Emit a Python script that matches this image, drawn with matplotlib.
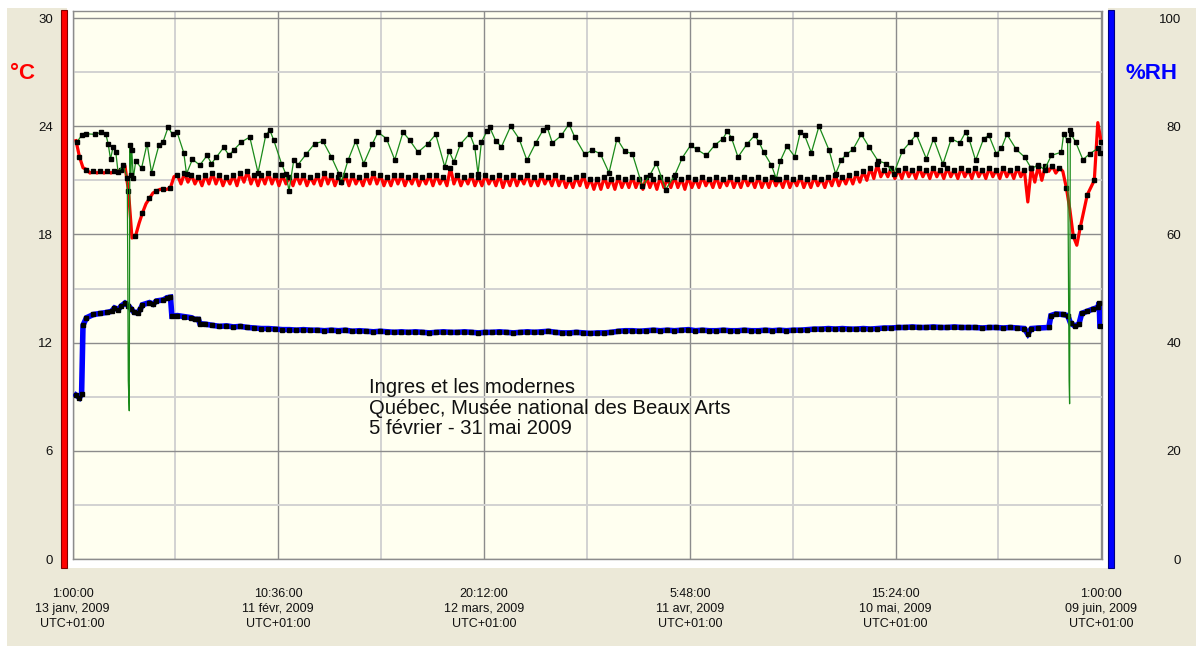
import numpy as np
import matplotlib.pyplot as plt
from matplotlib.patches import Rectangle

plt.rcParams['font.family'] = ['Liberation Sans', 'DejaVu Sans']

W, H = 1196, 646

# temperature (red), one reading every half day from day 0.5
red_temp = [
    23.2, 22.3, 21.7,
    21.6, 21.4, 21.5, 21.4, 21.5, 21.4, 21.5, 21.4, 21.5, 21.5, 21.6,
    21.8,
    20.4, 17.8, 17.9, 18.6, 19.2, 19.7, 20.0, 20.3, 20.4, 20.5, 20.5, 20.5, 20.6, 21.2,
    21.3, 20.8, 21.4, 20.9, 21.3, 20.8, 21.2, 20.7, 21.3, 20.8,
    21.4, 20.8, 21.3, 20.7, 21.2, 20.8, 21.3, 20.7, 21.4, 20.9,
    21.5, 20.8, 21.3, 20.7, 21.3, 20.8, 21.4, 20.8, 21.3, 20.7,
    21.3, 20.8, 21.2, 20.7, 21.3, 20.8, 21.3, 20.7, 21.2, 20.8,
    21.3, 20.7, 21.4, 20.8, 21.3, 20.7, 21.2, 20.8, 21.3, 20.7,
    21.3, 20.8, 21.2, 20.7, 21.3, 20.8, 21.4, 20.8, 21.3, 20.7,
    21.2, 20.7, 21.3, 20.8, 21.3, 20.7, 21.2, 20.8, 21.3, 20.7,
    21.2, 20.8, 21.3, 20.7, 21.3, 20.8, 21.2, 20.7, 21.7, 20.8,
    21.3, 20.7, 21.2, 20.8, 21.3, 20.7, 21.2, 20.7, 21.3, 20.8,
    21.2, 20.7, 21.3, 20.6, 21.2, 20.7, 21.3, 20.7, 21.2, 20.8,
    21.3, 20.7, 21.2, 20.7, 21.3, 20.8, 21.2, 20.7, 21.3, 20.7,
    21.2, 20.6, 21.1, 20.6, 21.2, 20.7, 21.3, 20.6, 21.1, 20.5,
    21.1, 20.5, 21.2, 20.6, 21.1, 20.5, 21.2, 20.6, 21.1, 20.6,
    21.2, 20.6, 21.1, 20.5, 21.2, 20.6, 21.1, 20.5, 21.2, 20.6,
    21.1, 20.6, 21.2, 20.6, 21.1, 20.5, 21.2, 20.6, 21.1, 20.6,
    21.2, 20.7, 21.1, 20.6, 21.2, 20.6, 21.1, 20.7, 21.2, 20.6,
    21.1, 20.6, 21.2, 20.7, 21.1, 20.6, 21.2, 20.6, 21.1, 20.6,
    21.2, 20.7, 21.1, 20.6, 21.2, 20.6, 21.1, 20.7, 21.2, 20.6,
    21.1, 20.6, 21.2, 20.7, 21.1, 20.6, 21.2, 20.7, 21.3, 20.7,
    21.2, 20.8, 21.3, 20.8, 21.4, 20.9, 21.5, 21.0,
    21.7, 21.1, 21.9, 21.2, 21.6, 21.2, 21.7, 21.1,
    21.6, 21.1, 21.7, 21.2, 21.6, 21.1, 21.7, 21.2, 21.6, 21.1,
    21.7, 21.2, 21.6, 21.1, 21.7, 21.2, 21.6, 21.1, 21.7, 21.2,
    21.6, 21.1, 21.7, 21.2, 21.6, 21.1, 21.7, 21.2, 21.6, 21.1,
    21.7, 21.2, 21.6, 21.1, 21.7, 21.2, 21.6, 19.8,
    21.7, 20.9, 21.8, 21.0, 21.8, 21.5, 21.8, 21.4, 21.7, 21.5,
    20.6, 19.4, 17.9, 17.4, 18.4, 19.3, 20.2, 20.6, 21.0, 24.2, 23.1,
]
red_days = 0.5 + 0.5 * np.arange(len(red_temp))

# relative humidity (blue): start, daily middle part, end
blue_start = [(0.5, 30.3), (1.0, 29.8), (1.3, 30.5), (1.5, 43.2), (2.0, 44.6), (3.0, 45.2),
              (4.0, 45.4), (5.0, 45.6), (5.6, 45.8), (6.0, 46.4), (6.5, 46.1), (7.0, 46.8),
              (7.5, 47.3), (8.0, 46.8), (8.4, 46.2), (8.8, 45.6), (9.3, 45.5), (9.7, 46.2),
              (10.0, 47.0), (11.0, 47.4), (11.5, 47.1), (12.0, 47.7), (13.0, 47.9), (13.5, 48.3),
              (14.0, 48.4), (14.2, 44.9), (15.0, 45.0), (16.0, 44.8), (17.0, 44.6), (17.5, 44.3),
              (18.0, 44.3), (18.2, 43.5)]
blue_mid = [
    43.4, 43.2, 43.0, 43.1, 42.9, 43.0, 42.8, 42.7, 42.6, 42.6,
    42.5, 42.4, 42.4, 42.3, 42.4, 42.3, 42.3, 42.2, 42.3, 42.2,
    42.3, 42.1, 42.2, 42.1, 42.0, 42.1, 42.0, 41.9, 42.0, 41.9,
    42.0, 41.9, 41.8, 41.9, 42.0, 41.9, 41.9, 42.0, 41.9, 41.8,
    41.9, 41.9, 42.0, 41.9, 41.8, 41.9, 42.0, 41.9, 42.0, 42.1,
    41.9, 41.8, 41.8, 41.9, 41.8, 41.7, 41.8, 41.8, 41.9, 42.1,
    42.2, 42.2, 42.1, 42.2, 42.3, 42.2, 42.3, 42.2, 42.3, 42.4,
    42.2, 42.3, 42.2, 42.2, 42.3, 42.2, 42.2, 42.3, 42.2, 42.2,
    42.3, 42.2, 42.3, 42.2, 42.3, 42.3, 42.4, 42.5, 42.5, 42.6,
    42.5, 42.6, 42.5, 42.5, 42.6, 42.5, 42.6, 42.7, 42.7, 42.8,
    42.8, 42.9, 42.8, 42.8, 42.9, 42.8, 42.8, 42.9, 42.8, 42.8,
    42.8, 42.7, 42.8, 42.8, 42.7, 42.8, 42.7,
]
blue_mid_first_day = 19
blue_end = [(136.0, 42.6), (136.5, 41.6), (137.0, 42.6), (138.0, 42.7), (139.5, 42.8),
            (139.8, 45.0), (140.5, 45.3), (141.5, 45.2), (142.2, 45.0), (142.6, 43.6),
            (143.2, 43.1), (143.8, 43.4), (144.2, 45.4), (145.0, 45.8), (145.8, 46.2),
            (146.5, 46.5), (146.7, 47.4), (146.8, 43.1)]

# green trace (right axis), read point by point
green_pts = [
    (0.66, 77.1), (1.29, 78.3), (2.0, 78.6), (3.19, 78.5), (4.14, 78.9), (4.76, 78.5),
    (5.09, 76.8), (5.43, 73.9), (5.8, 76.2), (6.19, 75.2), (6.51, 71.5), (7.23, 72.8),
    (7.83, 70.4), (7.97, 33.0), (8.11, 27.4), (8.19, 76.5), (8.33, 70.9), (8.47, 75.6),
    (8.69, 70.4), (9.04, 73.6), (9.86, 72.2), (10.66, 76.8), (11.29, 71.4), (12.37, 76.6),
    (12.94, 77.1), (13.66, 79.8), (14.29, 78.5), (14.94, 78.9), (15.9, 75.1), (16.29, 71.2),
    (17.14, 73.9), (18.19, 72.8), (19.23, 74.6), (19.86, 73.1), (20.57, 74.3), (21.61, 76.1),
    (22.37, 74.6), (23.04, 75.6), (24.14, 77.1), (25.33, 78.0), (26.51, 71.4), (27.61, 78.3),
    (28.19, 79.3), (28.76, 77.4), (29.86, 73.1), (30.47, 71.2), (30.94, 68.1), (31.61, 73.7),
    (32.23, 72.9), (33.43, 74.9), (34.61, 76.8), (35.8, 77.2), (37.0, 74.3), (38.09, 71.2),
    (38.43, 69.7), (39.37, 73.7), (40.47, 77.3), (41.61, 73.1), (42.86, 76.8), (43.66, 78.9),
    (44.86, 77.7), (46.04, 73.8), (47.23, 78.9), (48.19, 77.4), (49.37, 75.2), (50.8, 76.8),
    (51.9, 78.5), (53.19, 72.5), (53.8, 75.4), (54.51, 73.4), (55.43, 76.7), (56.76, 78.6),
    (57.47, 76.2), (57.94, 71.2), (58.43, 77.1), (59.23, 79.1), (59.61, 79.8), (60.47, 77.3),
    (61.29, 76.2), (62.61, 80.0), (63.8, 77.7), (64.94, 73.7), (66.19, 76.9), (67.23, 79.3),
    (67.8, 79.9), (68.57, 76.9), (69.86, 78.3), (70.94, 80.4), (71.76, 78.0), (73.19, 74.8),
    (74.29, 75.6), (75.43, 74.9), (76.66, 71.4), (77.8, 77.7), (78.9, 75.4), (80.0, 74.9),
    (81.43, 68.9), (82.47, 70.9), (83.43, 73.2), (84.76, 68.3), (86.04, 70.9), (87.14, 74.2),
    (88.33, 76.5), (89.23, 75.7), (90.57, 74.6), (91.76, 76.5), (92.94, 77.7), (93.57, 79.1),
    (94.14, 77.9), (95.09, 74.3), (96.37, 76.7), (97.47, 78.3), (98.09, 77.1), (98.76, 75.2),
    (99.86, 72.8), (100.57, 70.3), (101.14, 73.6), (102.09, 76.3), (103.19, 74.4), (104.0, 78.9),
    (104.61, 78.3), (105.57, 75.1), (106.66, 80.0), (108.09, 75.6), (109.04, 71.2), (109.86, 73.8),
    (110.57, 74.8), (111.51, 75.7), (112.71, 78.5), (113.8, 76.2), (115.09, 73.6), (116.29, 73.1),
    (117.33, 71.2), (118.57, 75.4), (119.71, 77.1), (120.57, 78.5), (122.0, 74.0), (123.04, 77.7),
    (124.37, 73.0), (125.57, 77.7), (126.76, 76.9), (127.61, 78.9), (128.09, 77.7), (129.04, 73.7),
    (130.19, 77.7), (130.94, 78.3), (132.0, 74.9), (132.71, 75.9), (133.51, 78.5), (134.86, 75.7),
    (136.04, 74.3), (137.0, 72.2), (137.94, 72.8), (138.9, 72.0), (139.86, 74.6), (141.29, 75.2),
    (141.61, 78.5), (142.19, 77.4), (142.4, 33.0), (142.47, 28.7), (142.57, 79.3), (142.69, 78.5),
    (143.33, 77.1), (144.37, 73.8), (145.33, 74.9), (146.51, 75.9), (146.76, 75.1),
]

tick_days = [0, 29.4, 58.8, 88.2, 117.6, 147.0]
tick_labels = ["1:00:00\n13 janv, 2009\nUTC+01:00", "10:36:00\n11 févr, 2009\nUTC+01:00",
               "20:12:00\n12 mars, 2009\nUTC+01:00", "5:48:00\n11 avr, 2009\nUTC+01:00",
               "15:24:00\n10 mai, 2009\nUTC+01:00", "1:00:00\n09 juin, 2009\nUTC+01:00"]
note = "Ingres et les modernes\nQuébec, Musée national des Beaux Arts\n5 février - 31 mai 2009"

blue_pts = np.array(blue_start
                    + [(blue_mid_first_day + i, v) for i, v in enumerate(blue_mid)]
                    + blue_end)
green_arr = np.array(green_pts)


def px_rect(x0, y0, x1, y1, **kw):
    # rectangle given in pixel coords (top-left origin)
    return Rectangle((x0 / W, 1 - y1 / H), (x1 - x0) / W, (y1 - y0) / H,
                     transform=fig.transFigure, **kw)


fig = plt.figure(figsize=(W / 100, H / 100), dpi=100, facecolor='white')
fig.patches.append(px_rect(7, 8, W, H, facecolor='#ECE9D8', edgecolor='none', zorder=-20))
fig.patches.append(px_rect(67, 8, 1108, 568, facecolor='white', edgecolor='none', zorder=-19))
fig.patches.append(px_rect(61, 10, 67, 568, facecolor='#FF0000', edgecolor='#800000', lw=0.8, zorder=2))
fig.patches.append(px_rect(1108, 10, 1114, 568, facecolor='#0000FF', edgecolor='#000080', lw=0.8, zorder=2))

ax = fig.add_axes([72.5 / W, 1 - 559 / H, (1102 - 72.5) / W, (559 - 11) / H])
ax.set_facecolor('#FFFFF0')
ax.set_xlim(0, 147.1)
ylo, yhi = 0, 30.39
ax.set_ylim(ylo, yhi)

# grid: dark majors, light minors
ax.set_yticks([0, 6, 12, 18, 24, 30])
ax.set_yticks([3, 9, 15, 21, 27], minor=True)
ax.set_xticks(tick_days, labels=tick_labels)
ax.set_xticks([14.7, 44.1, 73.5, 102.9, 132.3], minor=True)
ax.grid(which='major', color='#8C8C8C', lw=1.0)
ax.grid(which='minor', color='#D2D2D2', lw=1.4)
ax.set_axisbelow(True)
ax.tick_params(which='both', length=0)
ax.tick_params(axis='y', pad=14, labelsize=9.5, labelcolor='#111111')
ax.tick_params(axis='x', pad=21, labelsize=9, labelcolor='#111111')
for t in ax.get_xticklabels():
    t.set_linespacing(1.3)
for s in ax.spines.values():
    s.set_color('#8C8C8C')
    s.set_linewidth(1.0)

ax.plot(red_days, red_temp, color='#FF0000', lw=2.3, marker='s', ms=2.5,
        mfc='black', mec='black', markevery=(1, 2), zorder=3)

ax2 = ax.twinx()
ax2.set_ylim(ylo * 100 / 30, yhi * 100 / 30)
ax2.set_yticks([0, 20, 40, 60, 80, 100])
ax2.tick_params(length=0, pad=57, labelsize=9.5, labelcolor='#111111')
for t in ax2.get_yticklabels():
    t.set_horizontalalignment('right')
for s in ax2.spines.values():
    s.set_visible(False)

ax2.plot(blue_pts[:, 0], blue_pts[:, 1], color='#0000FF', lw=4.0, solid_joinstyle='miter',
         marker='s', ms=2.5, mfc='black', mec='black', zorder=3)
ax2.plot(green_arr[:, 0], green_arr[:, 1], color='#1A8A1A', lw=0.9, zorder=4)
keep = green_arr[:, 1] > 60
ax2.plot(green_arr[keep, 0], green_arr[keep, 1], ls='none', marker='s', ms=2.4,
         mfc='black', mec='black', zorder=5)

ax.text(42.3, 10.05, note, fontsize=14.6, va='top', ha='left', linespacing=1.12, color='#111111')

fig.text(22 / W, 1 - 73.5 / H, "°C", color='#FF0000', fontsize=16, fontweight='bold',
         ha='center', va='center')
fig.text(1151 / W, 1 - 73.5 / H, "%RH", color='#0000FF', fontsize=16, fontweight='bold',
         ha='center', va='center')

fig.savefig('out.png', dpi=100)
